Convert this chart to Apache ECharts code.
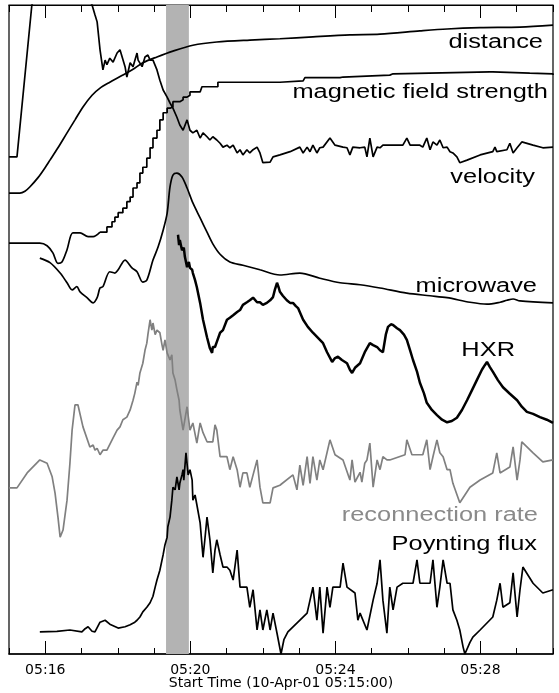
<!DOCTYPE html>
<html>
<head>
<meta charset="UTF-8">
<title>Flare time profiles</title>
<script src="https://cdn.jsdelivr.net/npm/echarts@6/dist/echarts.min.js"></script>
<style>
  html, body { margin: 0; padding: 0; background: #fff; }
  #chart { width: 559px; height: 693px; }
</style>
</head>
<body>
<div id="chart"></div>
<script>
// time in minutes after 05:15:00, curves in stacked arbitrary units (0 = bottom, 100 = top)
const labelMinutes = [1, 5, 9, 13];
const bandT = [4.33, 4.96];
const curveNames = ['distance', 'magnetic field strength', 'velocity', 'microwave', 'HXR', 'reconnection rate', 'Poynting flux'];

const distT = [0,0.30,0.44,0.58,0.80,0.99,1.13,1.35,1.60,1.82,2.04,2.29,2.51,2.78,3.14,3.42,3.69,4.08,4.52,5.07,5.73,6.64,7.47,8.38,9.40,10.23,11.33,12.08,12.99,14.09,15.0];
const distV = [71.0,71.0,71.3,72.0,73.4,74.9,76.1,78.0,80.3,82.3,84.3,86.1,87.2,88.1,89.2,90.1,91.1,92.0,92.9,93.8,94.3,94.6,94.8,95.1,95.4,95.5,96.0,96.3,96.5,96.6,96.9];

const magLeftT = [0,0.85,1.05,1.21,1.35,1.46,1.60,1.76,1.96,2.18,2.32,2.51];
const magLeftV = [63.3,63.3,62.9,61.8,60.2,60.4,62.3,64.9,64.9,64.3,64.3,65.0];
const magStepT = [2.51,2.70,2.84,2.92,3.01,3.14,3.25,3.34,3.42,3.53,3.61,3.69,3.80,3.89,3.97,4.08,4.16,4.25,4.36,4.44,
  4.52,4.71,4.80,4.91,4.99,5.27,5.32,5.76,7.47,8.11,8.16,9.13,9.21,10.50,10.59,13.26,13.34,14.36,15.0];
const magStepV = [65.0,65.8,66.6,67.3,68.0,68.7,69.7,70.4,71.8,72.6,74.1,75.0,76.4,78.0,79.5,80.7,82.3,83.4,84.1,84.3,
  85.1,85.4,85.8,86.1,86.6,86.9,87.4,88.1,88.3,88.5,88.8,88.9,89.2,89.4,89.7,89.7,89.5,89.4,89.2];

const velT = [0,0.22,0.63,1.40,2.29,2.37,2.43,2.51,2.59,2.65,
  2.70,2.78,2.87,2.98,3.06,3.12,3.20,3.25,3.34,3.42,
  3.53,3.56,3.67,3.75,3.83,3.89,3.97,4.08,4.16,4.25,
  4.36,4.44,4.52,4.63,4.71,4.80,4.91,4.99,5.07,5.18,
  5.27,5.35,5.46,5.54,5.62,5.73,5.82,5.90,6.01,6.09,
  6.18,6.29,6.37,6.45,6.56,6.64,6.73,6.84,6.92,7.00,
  7.20,7.28,7.47,7.75,8.02,8.11,8.22,8.30,8.38,8.49,
  8.57,8.66,8.85,8.99,9.21,9.32,9.40,9.48,9.68,9.81,
  9.87,9.95,10.04,10.15,10.23,10.31,10.50,10.86,10.97,11.06,
  11.33,11.41,11.52,11.61,11.69,11.80,11.88,11.97,12.08,12.16,
  12.24,12.35,12.43,12.63,12.99,13.34,13.40,13.45,13.73,13.81,
  13.90,14.01,14.14,14.45,14.72,15.0];
const velV = [76.6,76.6,100,110,100,98.5,97.4,93.1,90.0,91.5,
  90.8,91.8,91.2,92.6,93.1,92.0,90.5,88.9,91.1,90.5,
  92.6,91.5,90.5,92.0,92.3,91.5,91.5,90.0,88.4,86.9,
  85.8,84.9,84.1,82.7,81.5,80.7,82.3,80.7,80.3,80.7,
  79.5,80.3,79.7,79.2,79.7,79.2,78.7,78.1,78.4,78.0,
  78.4,77.2,77.7,76.9,77.7,77.2,77.7,78.1,77.2,75.7,
  75.8,76.6,76.9,77.4,78.1,77.2,78.1,77.4,78.4,77.2,
  78.0,78.1,79.5,78.4,78.1,78.0,76.9,78.1,78.0,78.1,
  76.6,79.5,76.6,78.1,78.0,78.4,78.4,78.4,79.5,78.4,
  78.4,78.1,79.5,77.7,78.9,78.4,79.2,78.0,78.1,77.4,
  77.2,76.6,75.7,76.1,76.9,77.4,78.1,77.4,77.7,78.7,
  77.2,78.0,78.9,78.4,78.0,78.1];

const mwT = [0.85,1.13,1.41,1.60,1.74,1.87,1.96,2.15,2.32,2.43,
  2.51,2.59,2.78,2.92,3.01,3.20,3.39,3.53,3.69,3.80,
  3.97,4.11,4.25,4.36,4.44,4.52,4.63,4.77,4.91,5.07,
  5.27,5.46,5.62,5.82,6.09,6.45,6.92,7.47,8.02,8.57,
  9.13,9.68,10.23,10.97,11.61,12.08,12.71,13.18,13.54,13.73,
  13.90,14.09,15.0];
const mwV = [61.0,60.3,58.7,57.2,56.1,56.6,55.8,54.9,54.1,54.9,
  56.4,56.6,58.9,58.7,59.2,60.7,59.5,58.9,57.3,57.6,
  60.7,62.7,65.3,67.9,72.0,73.8,74.1,73.5,71.8,69.5,
  67.2,65.0,63.2,61.6,60.4,59.9,59.2,58.4,58.7,57.9,
  57.2,56.9,56.4,55.6,55.2,54.9,54.2,53.9,54.2,54.5,
  54.7,54.4,54.1];

const hxrT = [4.66,4.69,4.71,4.77,4.82,4.85,4.88,4.91,4.96,4.99,
  5.05,5.07,5.13,5.18,5.27,5.35,5.46,5.54,5.60,5.62,
  5.68,5.73,5.82,5.90,6.01,6.09,6.18,6.29,6.37,6.45,
  6.56,6.64,6.73,6.84,6.92,7.00,7.11,7.20,7.28,7.33,
  7.39,7.44,7.47,7.55,7.66,7.75,7.83,7.91,7.97,8.11,
  8.24,8.38,8.52,8.66,8.77,8.91,8.99,9.07,9.18,9.32,
  9.40,9.46,9.54,9.68,9.81,9.95,10.04,10.15,10.23,10.31,
  10.39,10.45,10.53,10.59,10.70,10.78,10.89,10.97,11.06,11.14,
  11.25,11.33,11.44,11.52,11.66,11.80,11.94,12.08,12.21,12.35,
  12.49,12.63,12.77,12.90,13.04,13.12,13.18,13.26,13.34,13.48,
  13.62,13.81,14.01,14.14,14.28,14.45,14.64,14.83,15.0];
const hxrV = [64.6,63.0,63.8,62.2,62.6,61.2,61.5,59.6,60.4,59.5,
  59.2,58.7,57.6,56.5,54.1,51.5,48.8,47.1,46.4,47.3,
  47.3,48.1,49.5,49.9,51.5,51.8,52.2,52.7,53.0,53.8,
  54.2,54.5,54.9,54.2,54.2,53.8,54.1,54.5,55.0,56.1,
  57.2,56.4,55.8,55.2,54.5,54.1,54.1,53.6,53.3,51.5,
  50.4,49.5,48.7,47.9,46.5,45.0,45.6,45.8,45.3,44.8,
  43.8,43.3,44.1,44.8,46.5,47.9,47.6,47.3,46.8,46.5,
  49.2,50.4,50.8,50.7,50.2,49.9,49.2,48.4,46.8,45.3,
  43.5,41.8,40.2,38.7,37.6,36.8,36.1,35.7,35.9,36.4,
  37.6,39.1,40.7,42.2,43.8,44.5,45.0,44.2,43.5,42.2,
  41.1,40.1,39.1,38.1,37.3,37.0,36.5,36.1,35.6];

const recT = [0,0.22,0.50,0.85,1.05,1.19,1.27,1.35,1.41,1.49,
  1.60,1.68,1.74,1.82,1.90,2.04,2.23,2.32,2.37,2.43,
  2.51,2.59,2.70,2.87,2.98,3.06,3.14,3.25,3.34,3.42,
  3.47,3.53,3.56,3.61,3.69,3.75,3.80,3.83,3.89,3.94,
  3.97,4.03,4.08,4.16,4.22,4.25,4.30,4.36,4.44,4.49,
  4.52,4.58,4.63,4.69,4.71,4.80,4.91,4.99,5.07,5.18,
  5.27,5.35,5.46,5.62,5.68,5.73,5.82,6.01,6.09,6.18,
  6.29,6.37,6.45,6.56,6.64,6.73,6.84,6.92,7.00,7.20,
  7.28,7.47,7.83,7.94,8.02,8.11,8.22,8.30,8.38,8.49,
  8.57,8.66,8.85,8.99,9.21,9.40,9.46,9.54,9.68,9.73,
  9.81,9.87,9.95,10.04,10.15,10.23,10.31,10.42,10.50,10.92,
  10.97,11.11,11.41,11.52,11.61,11.69,11.80,11.88,11.97,12.08,
  12.16,12.24,12.43,12.71,12.99,13.34,13.45,13.54,13.81,13.90,
  14.01,14.09,14.14,14.45,14.72,15.0];
const recV = [25.6,25.6,27.9,29.9,29.4,27.3,24.8,21.1,18.0,19.1,
  23.7,29.4,34.5,38.4,38.4,35.0,31.9,32.2,31.4,31.7,
  30.7,31.4,31.4,33.3,34.5,35.0,36.1,36.5,37.6,39.1,
  40.2,41.9,41.4,43.3,44.8,46.8,47.9,49.2,51.5,49.9,
  51.0,49.2,49.9,49.5,47.6,46.8,48.4,46.4,45.3,46.1,
  43.3,42.2,40.7,39.1,37.6,34.5,38.1,34.5,35.6,32.5,
  35.6,34.1,32.7,32.7,35.3,34.5,30.4,30.4,28.4,30.4,
  28.4,25.7,27.9,27.9,25.7,27.6,29.9,25.7,23.3,23.3,
  25.6,26.0,27.6,25.3,29.1,26.0,30.4,26.3,30.4,26.8,
  29.9,28.4,33.0,30.7,29.9,26.8,29.9,26.5,28.0,26.5,
  29.4,29.9,32.5,25.7,29.9,28.4,30.4,29.9,29.9,30.7,
  33.0,30.7,30.7,33.0,28.4,30.4,33.0,31.0,30.4,28.4,
  28.4,26.3,23.3,25.7,26.8,27.9,31.0,27.9,28.8,31.9,
  26.8,29.9,32.7,31.0,29.6,29.9];

const pfT = [0.85,1.32,1.68,2.01,2.10,2.18,2.29,2.37,2.51,2.65,
  2.78,3.01,3.20,3.34,3.47,3.53,3.61,3.69,3.80,3.89,
  3.97,4.03,4.08,4.16,4.22,4.25,4.30,4.36,4.38,4.44,
  4.49,4.52,4.58,4.63,4.69,4.71,4.77,4.80,4.82,4.88,
  4.94,4.99,5.05,5.07,5.13,5.18,5.27,5.35,5.40,5.46,
  5.54,5.62,5.68,5.73,5.82,5.90,6.01,6.09,6.18,6.29,
  6.37,6.45,6.56,6.64,6.73,6.84,6.92,7.00,7.11,7.20,
  7.28,7.39,7.50,7.58,7.69,8.22,8.30,8.38,8.49,8.57,
  8.66,8.77,8.85,8.93,9.13,9.21,9.32,9.54,9.62,9.68,
  9.87,10.04,10.15,10.23,10.31,10.42,10.50,10.59,10.70,10.86,
  11.14,11.25,11.33,11.61,11.69,11.80,11.88,11.97,12.08,12.16,
  12.24,12.35,12.43,12.52,12.57,12.71,12.79,12.99,13.34,13.45,
  13.54,13.62,13.81,13.90,14.01,14.09,14.17,14.45,14.72,15.0];
const pfV = [3.4,3.5,3.7,3.4,3.9,4.2,3.5,3.4,4.9,5.2,
  4.6,4.0,4.2,4.5,4.9,5.2,5.7,6.5,7.2,7.9,
  8.9,10.3,11.4,12.9,14.5,15.3,16.8,18.0,19.6,21.1,
  23.7,25.7,25.3,27.3,25.3,26.3,27.6,28.4,26.8,31.0,
  27.6,28.4,26.8,23.7,24.5,23.0,20.2,14.9,17.6,21.1,
  17.6,12.5,16.0,17.6,15.3,13.4,13.4,12.9,11.4,16.0,
  10.3,10.3,10.3,7.2,9.9,3.7,6.8,3.7,6.8,3.7,
  6.3,3.2,0,2.2,3.4,6.3,8.3,10.3,5.2,10.3,
  3.2,10.3,7.2,10.3,10.3,14.0,10.3,9.4,5.2,6.3,
  3.7,8.3,10.9,14.5,8.3,3.2,10.3,6.8,10.3,10.9,
  10.9,14.5,10.9,10.9,14.5,7.2,10.3,14.5,10.9,10.9,
  6.8,5.2,3.7,1.1,0,1.8,2.6,3.7,5.7,8.3,
  10.9,7.2,7.9,12.5,5.7,9.9,13.4,10.9,9.4,9.9];

function pairs(t, v) {
  return t.map((x, i) => [x, v[i]]);
}

function curve(name, t, v, extra) {
  return Object.assign({
    name: name,
    type: 'line',
    data: pairs(t, v),
    symbol: 'none',
    z: 3,
    clip: true,
    lineStyle: { color: '#000', width: 1.7 },
    emphasis: { disabled: true }
  }, extra || {});
}

const chart = echarts.init(document.getElementById('chart'));
const tickLine = { color: '#000', width: 1 };
const labelFont = '20px "Liberation Sans", Arial, sans-serif';

function tag(text, x, y, color) {
  return {
    type: 'text', x: x, y: y, scaleX: 1.27, z: 10, silent: true,
    style: {
      text: text, fill: color || '#000', font: labelFont,
      align: 'right', verticalAlign: 'middle',
      textAlign: 'right', textVerticalAlign: 'middle'
    }
  };
}

chart.setOption({
  animation: false,
  backgroundColor: '#fff',
  grid: {
    left: 9, right: 6, top: 5, bottom: 39,
    show: true, borderColor: '#000', borderWidth: 1.2,
    containLabel: false, outerBoundsMode: 'none'
  },
  xAxis: [
    {
      type: 'value', min: 0, max: 15, interval: 1, position: 'bottom',
      axisLine: { show: true, lineStyle: { color: '#000', width: 1.5 } },
      axisTick: { show: true, inside: true, length: 6, lineStyle: tickLine },
      axisLabel: {
        customValues: labelMinutes,
        formatter: v => '05:' + String(15 + Math.round(v)).padStart(2, '0'),
        color: '#000', fontFamily: 'DejaVu Sans', fontSize: 14, margin: 9
      },
      splitLine: { show: false },
      name: 'Start Time (10-Apr-01 05:15:00)',
      nameLocation: 'middle', nameGap: 22, nameMoveOverlap: false,
      nameTextStyle: { color: '#000', fontFamily: 'DejaVu Sans', fontSize: 14 }
    },
    {
      type: 'value', min: 0, max: 15, position: 'bottom',
      axisLine: { show: false },
      axisTick: { show: true, inside: true, length: 13, customValues: labelMinutes, lineStyle: tickLine },
      axisLabel: { show: false },
      splitLine: { show: false }
    },
    {
      type: 'value', min: 0, max: 15, interval: 1, position: 'top',
      axisLine: { show: true, lineStyle: { color: '#000', width: 1 } },
      axisTick: { show: true, inside: true, length: 7, lineStyle: tickLine },
      axisLabel: { show: false },
      splitLine: { show: false }
    },
    {
      type: 'value', min: 0, max: 15, position: 'top',
      axisLine: { show: false },
      axisTick: { show: true, inside: true, length: 13, customValues: labelMinutes, lineStyle: tickLine },
      axisLabel: { show: false },
      splitLine: { show: false }
    }
  ],
  yAxis: {
    type: 'value', min: 0, max: 100,
    axisLine: { show: false }, axisTick: { show: false },
    axisLabel: { show: false }, splitLine: { show: false }
  },
  series: [
    {
      name: 'band', type: 'line', data: [], z: 1, silent: true,
      markArea: {
        silent: true,
        itemStyle: { color: '#b3b3b3' },
        data: [[{ xAxis: bandT[0] }, { xAxis: bandT[1] }]]
      }
    },
    curve(curveNames[0], distT, distV, { smooth: 0.3 }),
    curve(curveNames[1], magLeftT, magLeftV, { smooth: 0.3 }),
    curve(curveNames[1] + ' steps', magStepT, magStepV, { step: 'end' }),
    curve(curveNames[2], velT, velV),
    curve(curveNames[3], mwT, mwV, { smooth: 0.3 }),
    curve(curveNames[4], hxrT, hxrV, { lineStyle: { color: '#000', width: 2.5 } }),
    curve(curveNames[5], recT, recV, { lineStyle: { color: '#808080', width: 1.7 } }),
    curve(curveNames[6], pfT, pfV)
  ],
  graphic: [
    tag(curveNames[0], 543, 42),
    tag(curveNames[1], 548, 92),
    tag(curveNames[2], 535, 177),
    tag(curveNames[3], 537, 286),
    tag(curveNames[4], 515, 350),
    tag(curveNames[5], 538, 515, '#8a8a8a'),
    tag(curveNames[6], 537, 544)
  ]
});
</script>
</body>
</html>
